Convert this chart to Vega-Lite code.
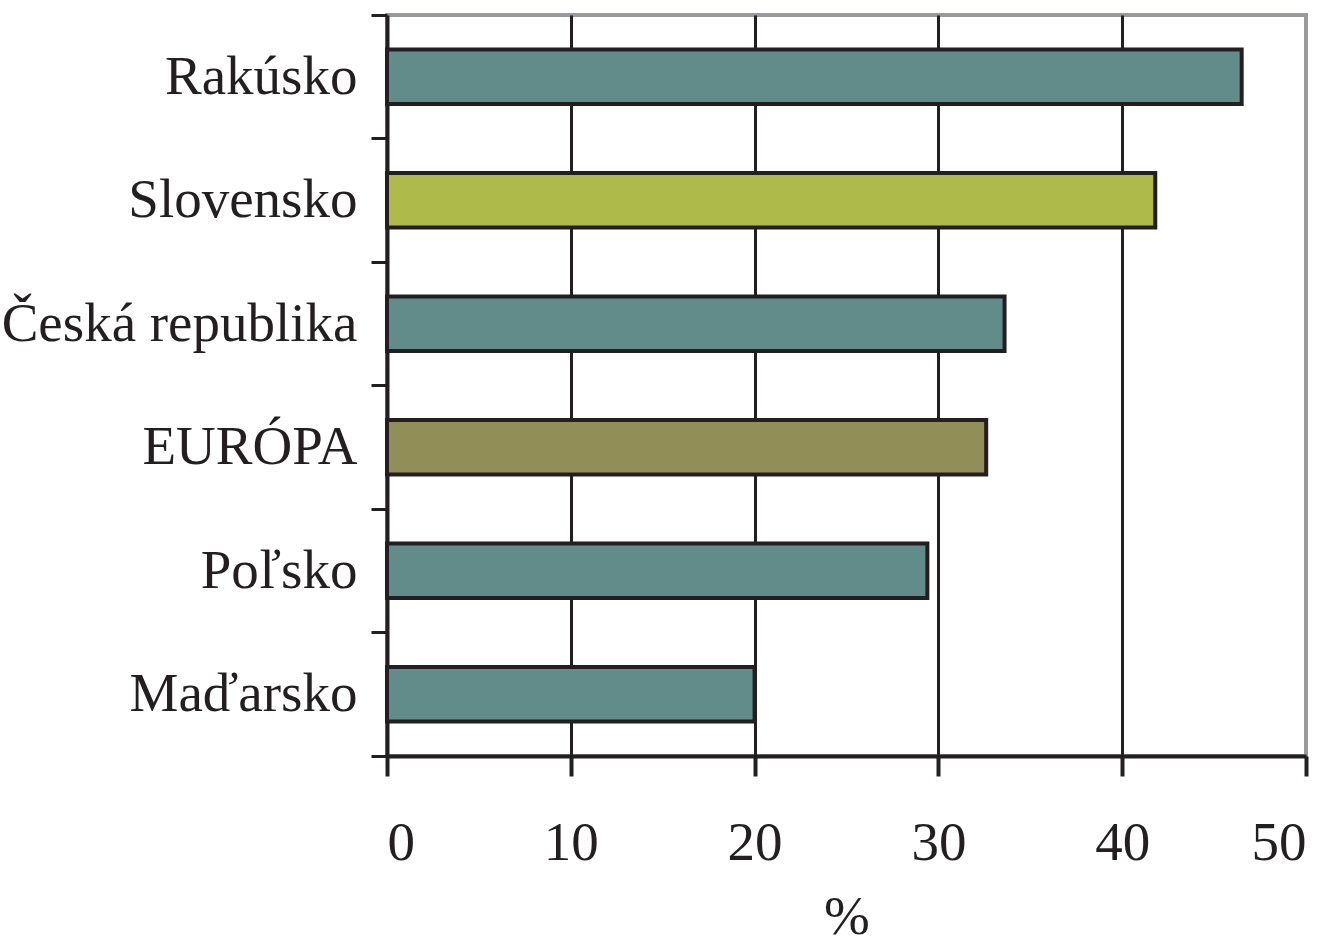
{
  "$schema": "https://vega.github.io/schema/vega-lite/v6.json",
  "width": 919,
  "height": 741,
  "autosize": "none",
  "padding": {"left": 387, "top": 15, "right": 34, "bottom": 194},
  "background": "white",
  "data": {
    "values": [
      {"krajina": "Rakúsko", "hodnota": 46.5, "skupina": "krajina"},
      {"krajina": "Slovensko", "hodnota": 41.8, "skupina": "Slovensko"},
      {"krajina": "Česká republika", "hodnota": 33.6, "skupina": "krajina"},
      {"krajina": "EURÓPA", "hodnota": 32.6, "skupina": "Európa"},
      {"krajina": "Poľsko", "hodnota": 29.4, "skupina": "krajina"},
      {"krajina": "Maďarsko", "hodnota": 20, "skupina": "krajina"}
    ]
  },
  "mark": {"type": "bar", "stroke": "#231f20", "strokeWidth": 4, "height": {"band": 0.44}},
  "encoding": {
    "y": {
      "field": "krajina",
      "type": "nominal",
      "sort": null,
      "scale": {"paddingInner": 0, "paddingOuter": 0},
      "axis": {
        "title": null,
        "bandPosition": 1,
        "tickExtra": true,
        "tickSize": 16,
        "tickWidth": 3,
        "tickColor": "#231f20",
        "domainColor": "#231f20",
        "domainWidth": 4,
        "labelFont": "Liberation Serif",
        "labelFontSize": 55,
        "labelColor": "#231f20",
        "labelPadding": 14,
        "labelLimit": 500,
        "grid": false
      }
    },
    "x": {
      "field": "hodnota",
      "type": "quantitative",
      "scale": {"domain": [0, 50], "nice": false},
      "axis": {
        "values": [0, 10, 20, 30, 40, 50],
        "title": "%",
        "titleFont": "Liberation Serif",
        "titleFontSize": 55,
        "titleFontWeight": "normal",
        "titleColor": "#231f20",
        "titlePadding": 20,
        "tickSize": 20,
        "tickWidth": 4,
        "tickColor": "#231f20",
        "domainColor": "#231f20",
        "domainWidth": 4,
        "labelFont": "Liberation Serif",
        "labelFontSize": 55,
        "labelColor": "#231f20",
        "labelPadding": 40,
        "grid": true,
        "gridWidth": 3,
        "gridColor": {"condition": {"test": "datum.value === 50 || datum.value === 0", "value": "transparent"}, "value": "#231f20"}
      }
    },
    "color": {
      "field": "skupina",
      "type": "nominal",
      "scale": {"domain": ["krajina", "Slovensko", "Európa"], "range": ["#628c89", "#aeba4a", "#928e58"]},
      "legend": null
    }
  },
  "config": {
    "view": {"stroke": "#9a9a9e", "strokeWidth": 4}
  }
}
